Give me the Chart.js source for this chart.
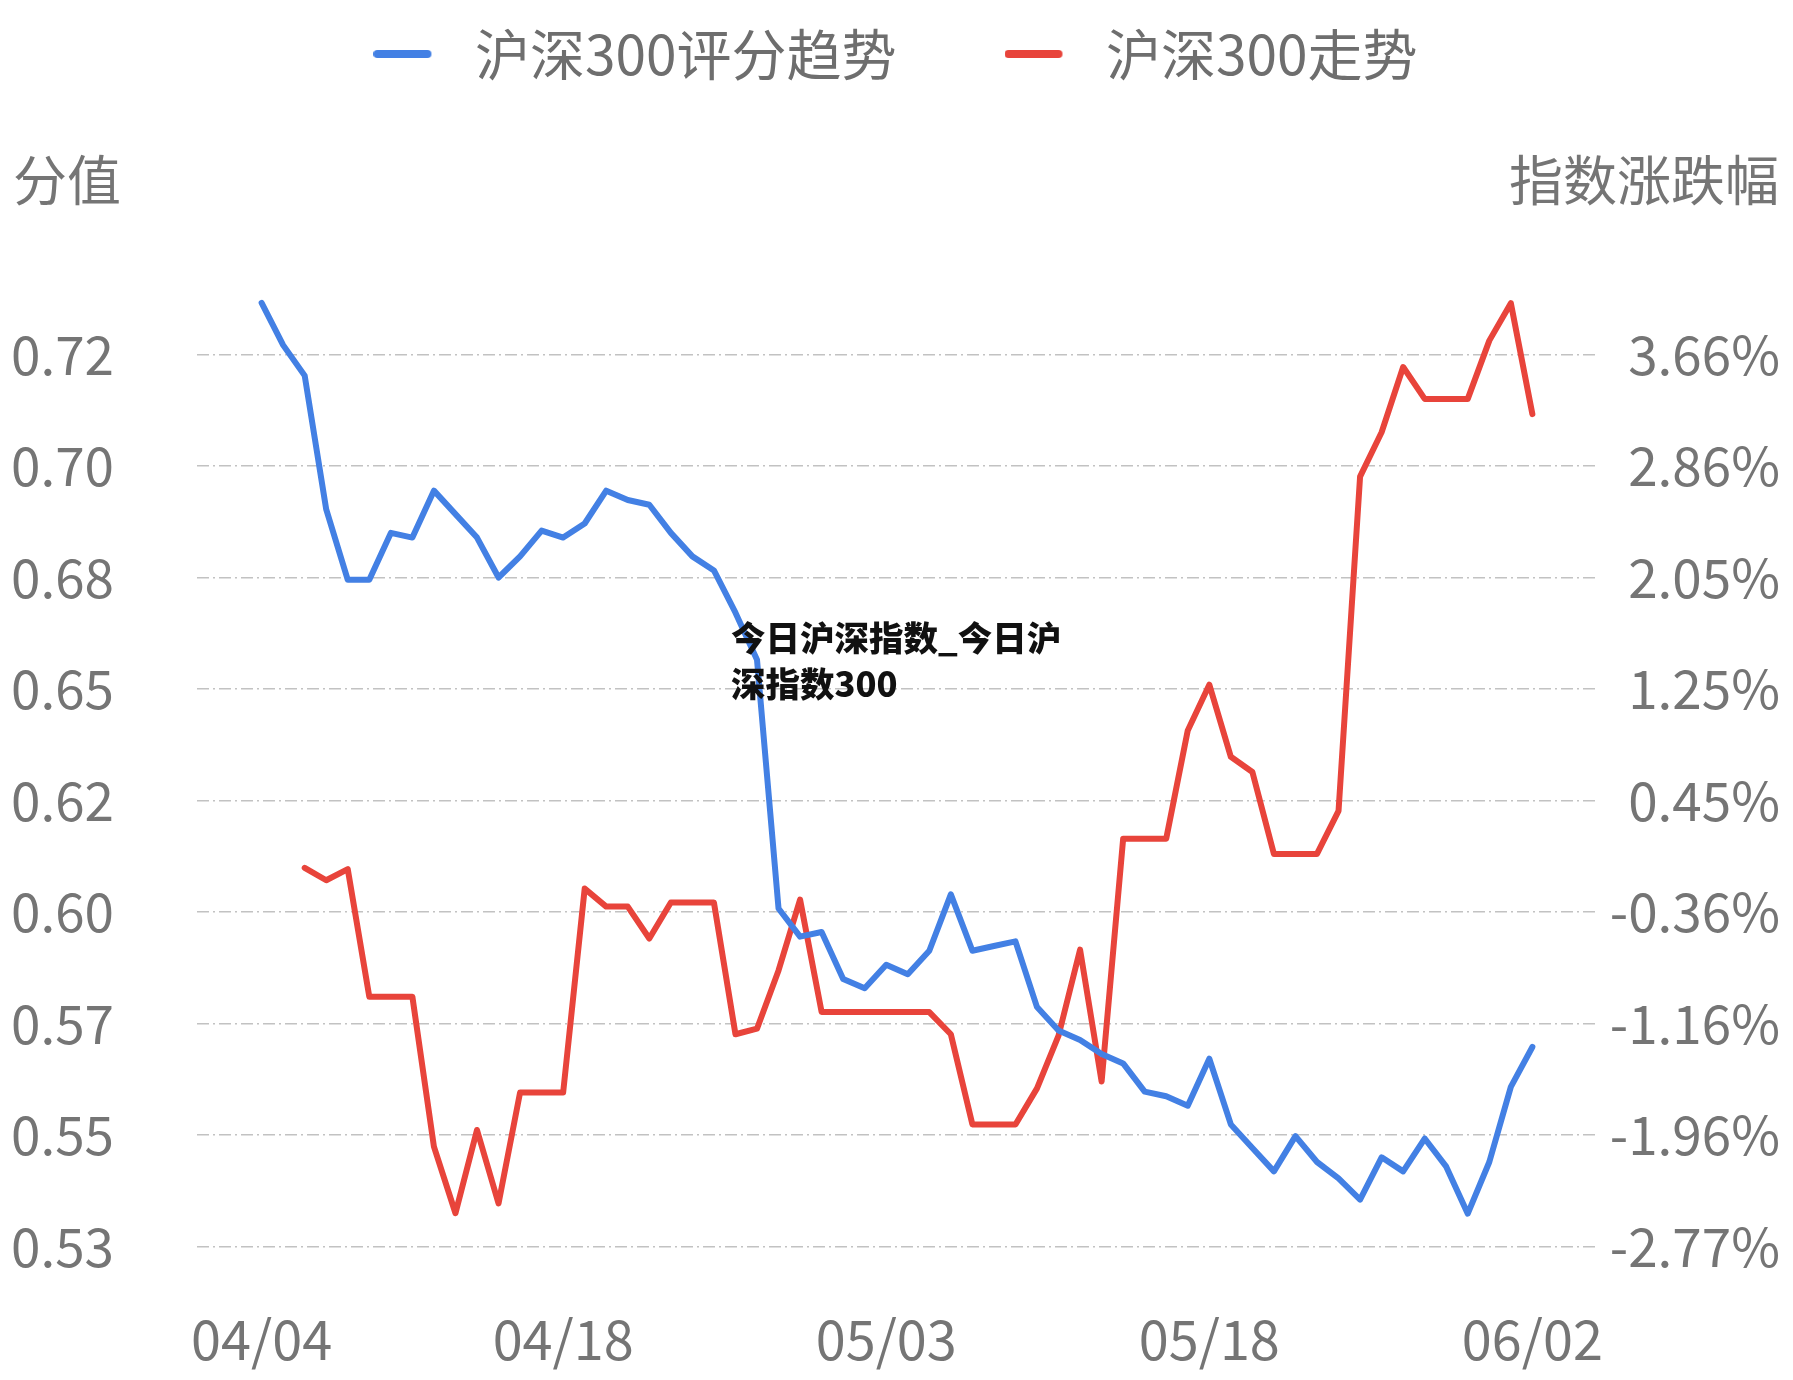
<!DOCTYPE html>
<html>
<head>
<meta charset="utf-8">
<script src="https://cdn.jsdelivr.net/npm/chart.js@4/dist/chart.umd.min.js"></script>
<style>
html, body { margin: 0; padding: 0; background: #ffffff; }
#wrap { position: relative; width: 1793px; height: 1380px; }
#overlay {
  position: absolute; left: 731px; top: 613px; z-index: 5;
  font-family: "Noto Sans CJK SC", sans-serif; font-weight: 900;
  font-size: 34.5px; line-height: 46px; color: #111111; white-space: nowrap;
}
</style>
</head>
<body>
<div id="wrap">
  <canvas id="c"></canvas>
  <div id="overlay">今日沪深指数_今日沪<br>深指数300</div>
</div>
<script>
// ---- data ----
const dates = [
  '04/04','04/05','04/06','04/07','04/08','04/09','04/10','04/11','04/12','04/13',
  '04/14','04/15','04/16','04/17','04/18','04/19','04/20','04/21','04/22','04/23',
  '04/24','04/25','04/26','04/27','04/28','04/29','04/30','05/01','05/02','05/03',
  '05/04','05/05','05/06','05/07','05/08','05/09','05/10','05/11','05/12','05/13',
  '05/14','05/15','05/16','05/17','05/18','05/19','05/20','05/21','05/22','05/23',
  '05/24','05/25','05/26','05/27','05/28','05/29','05/30','05/31','06/01','06/02'
];
const scoreTrend = [
  0.731, 0.722, 0.7155, 0.687, 0.672, 0.672, 0.682, 0.681, 0.691, 0.686,
  0.681, 0.6725, 0.677, 0.6825, 0.681, 0.684, 0.691, 0.689, 0.688, 0.682,
  0.677, 0.674, 0.665, 0.655, 0.602, 0.596, 0.597, 0.587, 0.585, 0.590,
  0.588, 0.593, 0.605, 0.593, 0.594, 0.595, 0.581, 0.576, 0.574, 0.571,
  0.569, 0.563, 0.562, 0.560, 0.570, 0.556, 0.551, 0.546, 0.5535, 0.548,
  0.5445, 0.540, 0.549, 0.546, 0.553, 0.547, 0.537, 0.548, 0.564, 0.5725
];
const indexChange = [
  null, null, -0.04, -0.13, -0.05, -0.97, -0.97, -0.97, -2.05, -2.53,
  -1.93, -2.46, -1.66, -1.66, -1.66, -0.19, -0.32, -0.32, -0.55, -0.29,
  -0.29, -0.29, -1.24, -1.20, -0.78, -0.27, -1.08, -1.08, -1.08, -1.08,
  -1.08, -1.08, -1.24, -1.89, -1.89, -1.89, -1.63, -1.25, -0.63, -1.58,
  0.17, 0.17, 0.17, 0.95, 1.28, 0.76, 0.65, 0.06, 0.06, 0.06,
  0.37, 2.78, 3.10, 3.57, 3.34, 3.34, 3.34, 3.76, 4.03, 3.23
];
const seriesNames = ['沪深300评分趋势', '沪深300走势'];
const xTickLabels = ['04/04', '04/18', '05/03', '05/18', '06/02'];
const leftTickLabels = ['0.53', '0.55', '0.57', '0.60', '0.62', '0.65', '0.68', '0.70', '0.72'];
const rightTickLabels = ['-2.77%', '-1.96%', '-1.16%', '-0.36%', '0.45%', '1.25%', '2.05%', '2.86%', '3.66%'];
const leftAxisTitle = '分值';
const rightAxisTitle = '指数涨跌幅';
const leftMin = 0.53, leftStep = 0.02375;
const rightMin = -2.77, rightStep = 0.80375;

// ---- styles ----
const BLUE = '#4380e4';
const RED = '#e8443b';
const TEXT = '#757575';
const FONT = '"Noto Sans CJK SC", "Noto Sans", sans-serif';
const TICK_SIZE = 53;
const LEGEND_SIZE = 55;
const MARK_W = 74;

function widest(labels, size) {
  const cx = document.createElement('canvas').getContext('2d');
  cx.font = size + 'px ' + FONT;
  return Math.max(...labels.map(l => cx.measureText(l).width));
}
const leftW = widest(leftTickLabels, TICK_SIZE);
const rightW = widest(rightTickLabels, TICK_SIZE);

// legend marker: short thick rounded line, left part of a wider transparent box
function legendMarker(color) {
  const cv = document.createElement('canvas');
  cv.width = MARK_W; cv.height = 12;
  const g = cv.getContext('2d');
  g.strokeStyle = color;
  g.lineWidth = 8;
  g.lineCap = 'round';
  g.beginPath();
  g.moveTo(4, 6);
  g.lineTo(54, 6);
  g.stroke();
  return cv;
}

const axisTitlePlugin = {
  id: 'axisTitles',
  afterDraw(chart) {
    const ctx = chart.ctx;
    ctx.save();
    ctx.font = '54px ' + FONT;
    ctx.fillStyle = TEXT;
    ctx.textBaseline = 'middle';
    ctx.textAlign = 'left';
    ctx.fillText(leftAxisTitle, 13, 180);
    ctx.textAlign = 'right';
    ctx.fillText(rightAxisTitle, 1779, 180);
    ctx.restore();
  }
};

new Chart(document.getElementById('c'), {
  type: 'line',
  data: {
    datasets: [
      {
        label: seriesNames[0],
        data: dates.map((d, i) => ({ x: i, y: scoreTrend[i] })),
        yAxisID: 'y',
        borderColor: BLUE, backgroundColor: BLUE,
        borderWidth: 6, pointRadius: 0, tension: 0,
        borderJoinStyle: 'round', borderCapStyle: 'round'
      },
      {
        label: seriesNames[1],
        data: dates.map((d, i) => ({ x: i, y: indexChange[i] })),
        yAxisID: 'y1',
        borderColor: RED, backgroundColor: RED,
        borderWidth: 6, pointRadius: 0, tension: 0,
        borderJoinStyle: 'round', borderCapStyle: 'round'
      }
    ]
  },
  options: {
    responsive: true,
    maintainAspectRatio: false,
    animation: false,
    events: [],
    layout: { padding: { left: 11, right: 13, top: -81.5, bottom: 0 } },
    plugins: {
      legend: {
        display: true,
        position: 'top',
        labels: {
          font: { family: FONT, size: LEGEND_SIZE },
          color: '#6e6e6e',
          usePointStyle: true,
          pointStyleWidth: MARK_W,
          boxHeight: 12,
          padding: 108,
          generateLabels(chart) {
            return chart.data.datasets.map((ds, i) => ({
              text: ds.label,
              fillStyle: ds.borderColor,
              strokeStyle: ds.borderColor,
              lineWidth: 0,
              pointStyle: legendMarker(ds.borderColor),
              fontColor: '#6e6e6e',
              hidden: false,
              datasetIndex: i
            }));
          }
        }
      },
      title: {
        display: true,
        text: '',
        weight: 500,
        font: { size: 10, lineHeight: 1 },
        padding: { top: 141.5, bottom: 0 }
      },
      tooltip: { enabled: false }
    },
    scales: {
      x: {
        type: 'linear',
        min: -3,
        max: 62,
        grid: { display: false, drawTicks: false },
        border: { display: false },
        afterFit(scale) { scale.height = 133.5; },
        afterBuildTicks(scale) {
          scale.ticks = xTickLabels.map(l => ({ value: dates.indexOf(l) }));
        },
        ticks: {
          autoSkip: false,
          maxRotation: 0,
          padding: 61,
          color: TEXT,
          font: { family: FONT, size: 54 },
          callback: (v) => dates[v]
        }
      },
      y: {
        type: 'linear',
        position: 'left',
        min: leftMin,
        max: leftMin + 9 * leftStep,
        afterFit(scale) { scale.width = 186; },
        afterBuildTicks(scale) {
          scale.ticks = leftTickLabels.map((l, i) => ({ value: leftMin + i * leftStep }));
        },
        grid: { color: '#c2c2c2', lineWidth: 1.6, drawTicks: false },
        border: { display: false, dash: [12, 4, 2, 4] },
        ticks: {
          crossAlign: 'far',
          padding: 186 - leftW,
          color: TEXT,
          font: { family: FONT, size: TICK_SIZE },
          callback: (v, i) => leftTickLabels[i]
        }
      },
      y1: {
        type: 'linear',
        position: 'right',
        min: rightMin,
        max: rightMin + 9 * rightStep,
        afterFit(scale) { scale.width = 183; },
        afterBuildTicks(scale) {
          scale.ticks = rightTickLabels.map((l, i) => ({ value: rightMin + i * rightStep }));
        },
        grid: { display: false, drawTicks: false },
        border: { display: false },
        ticks: {
          crossAlign: 'far',
          padding: 183 - rightW,
          color: TEXT,
          font: { family: FONT, size: TICK_SIZE },
          callback: (v, i) => rightTickLabels[i]
        }
      }
    }
  },
  plugins: [axisTitlePlugin]
});
</script>
</body>
</html>
